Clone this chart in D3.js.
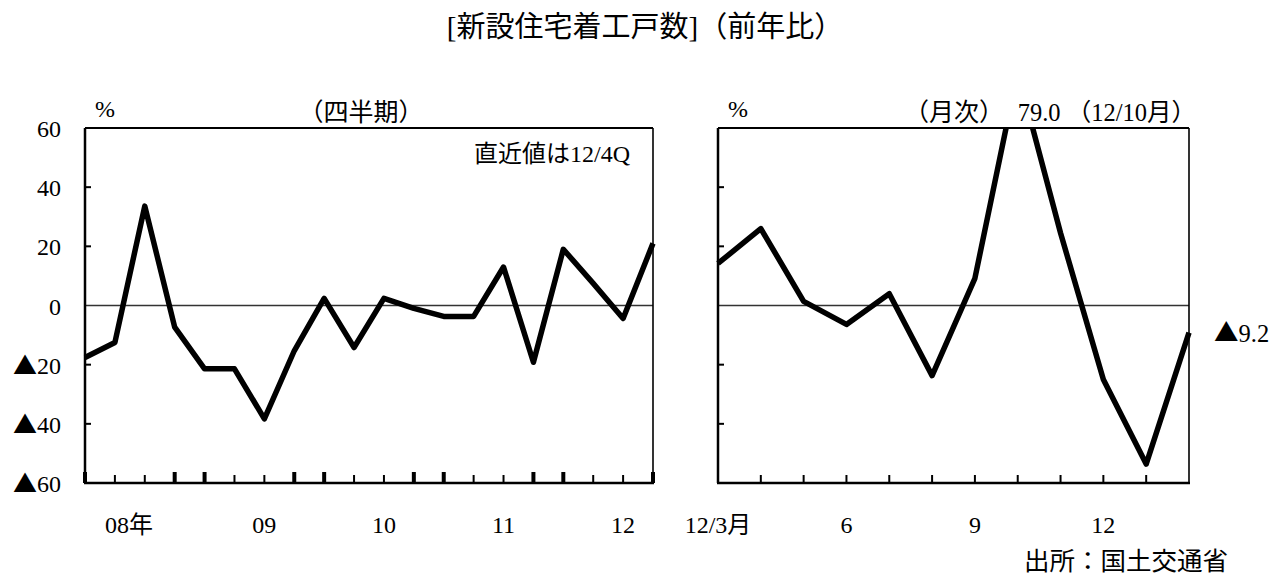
<!DOCTYPE html>
<html>
<head>
<meta charset="utf-8">
<script src="https://cdn.jsdelivr.net/npm/d3@7"></script>
<style>
  body { margin: 0; background: #fff; }
  svg { display: block; }
  text { font-family: "Liberation Serif", "Tinos", "Times New Roman", "DejaVu Serif", "Noto Sans CJK JP", serif; fill: #000; }
  .cjk { font-family: "Noto Sans CJK JP", sans-serif; }
</style>
</head>
<body>
<svg id="chart" width="1279" height="578"></svg>
<script>
// Quarterly housing starts, year-on-year change (%)
const quarters = ["08Q1","08Q2","08Q3","08Q4","09Q1","09Q2","09Q3","09Q4",
                  "10Q1","10Q2","10Q3","10Q4","11Q1","11Q2","11Q3","11Q4",
                  "12Q1","12Q2","12Q3","12Q4"];
const quarterlyYoY = [-17.6,-12.5,33.6,-7.3,-21.4,-21.4,-38.3,-15.3,
                      2.4,-14.2,2.4,-1.0,-3.7,-3.7,13.0,-19.2,
                      19.0,7.5,-4.4,21.0];
const quarterLabels = ["08年","09","10","11","12"];
const quarterLabelAt = [1.47, 6, 10, 14, 18];

// Monthly housing starts, year-on-year change (%)
const months = ["12/3","12/4","12/5","12/6","12/7","12/8","12/9","12/10","12/11","12/12","13/1","13/2"];
const monthlyYoY = [14.2,26.0,1.4,-6.4,4.0,-23.7,9.2,79.0,24.5,-25.0,-53.6,-9.2];
const monthLabels = ["12/3月","6","9","12"];
const monthLabelAt = [0, 3, 6, 9];

const yTicks = [60,40,20,0,-20,-40,-60];

const svg = d3.select("#chart");

// negative values are written with a leading ▲
function signedText(sel, v) {
  sel.text(null);
  if (v < 0) sel.append("tspan").attr("class", "cjk").text("▲");
  sel.append("tspan").text(String(Math.abs(v)));
}

const plotTop = 128, plotBottom = 483;
const y = d3.scaleLinear().domain([-60, 60]).range([plotBottom, plotTop]);

// Title
svg.append("text").attr("x", 645).attr("y", 37).attr("text-anchor", "middle")
  .attr("font-size", 29).text("[新設住宅着工戸数]（前年比）");

function panel(opts) {
  const { x0, x1, values, subtitle, subtitleX, clipId } = opts;
  const x = d3.scaleLinear().domain([0, values.length - 1]).range([x0, x1]);
  const g = svg.append("g");

  // zero line
  g.append("line").attr("x1", x0).attr("x2", x1).attr("y1", y(0)).attr("y2", y(0))
    .attr("stroke", "#333").attr("stroke-width", 1.5);

  // inner y ticks
  g.selectAll(".yt").data(yTicks.filter(v => v !== 0 && Math.abs(v) !== 60)).join("line")
    .attr("x1", x0).attr("x2", x0 + 6).attr("y1", d => y(d)).attr("y2", d => y(d))
    .attr("stroke", "#000").attr("stroke-width", 2);

  // frame
  g.append("line").attr("x1", x0).attr("x2", x1).attr("y1", plotTop).attr("y2", plotTop)
    .attr("stroke", "#000").attr("stroke-width", 2);
  g.append("line").attr("x1", x1).attr("x2", x1).attr("y1", plotTop).attr("y2", plotBottom)
    .attr("stroke", "#000").attr("stroke-width", 1.6);
  g.append("line").attr("x1", x0).attr("x2", x0).attr("y1", plotTop).attr("y2", plotBottom)
    .attr("stroke", "#000").attr("stroke-width", 2.5);
  g.append("line").attr("x1", x0 - 1).attr("x2", x1 + 1).attr("y1", plotBottom).attr("y2", plotBottom)
    .attr("stroke", "#000").attr("stroke-width", 2.5);

  // subtitle and unit
  g.append("text").attr("x", subtitleX).attr("y", 121).attr("text-anchor", "middle")
    .attr("font-size", 25).text(subtitle);
  g.append("text").attr("x", x0 + 20).attr("y", 117).attr("text-anchor", "middle")
    .attr("font-size", 24).text("%");

  // clip and data line
  svg.append("clipPath").attr("id", clipId).append("rect")
    .attr("x", x0 - 5).attr("y", plotTop).attr("width", x1 - x0 + 10).attr("height", plotBottom - plotTop);
  const line = d3.line().x((d, i) => x(i)).y(d => y(d));
  g.append("path").datum(values).attr("d", line).attr("clip-path", `url(#${clipId})`)
    .attr("fill", "none").attr("stroke", "#000").attr("stroke-width", 5.5)
    .attr("stroke-linejoin", "round");
  return { g, x };
}

// Quarterly panel
const left = panel({ x0: 85, x1: 653, values: quarterlyYoY, subtitle: "（四半期）", subtitleX: 361, clipId: "clipQ" });
const quarterMajor = quarters.map(q => q.endsWith("Q1") || q.endsWith("Q4"));
left.g.selectAll(".xt").data(quarters).join("line")
  .attr("x1", (d, i) => left.x(i)).attr("x2", (d, i) => left.x(i))
  .attr("y1", (d, i) => quarterMajor[i] ? plotBottom - 11 : plotBottom - 8).attr("y2", plotBottom)
  .attr("stroke", "#000").attr("stroke-width", (d, i) => quarterMajor[i] ? 4 : 2);
left.g.selectAll(".yl").data(yTicks).join("text")
  .attr("x", 61).attr("y", d => y(d) + 9).attr("text-anchor", "end")
  .attr("font-size", 24).each(function (d) { signedText(d3.select(this), d); });
left.g.selectAll(".xl").data(quarterLabels).join("text")
  .attr("x", (d, i) => left.x(quarterLabelAt[i])).attr("y", 533).attr("text-anchor", "middle")
  .attr("font-size", 24).text(d => d);
const latestQ = quarters[quarters.length - 1];
left.g.append("text").attr("x", 630).attr("y", 162).attr("text-anchor", "end")
  .attr("font-size", 24).text(`直近値は${latestQ.slice(0, 2)}/${latestQ.slice(3)}Q`);

// Monthly panel
const right = panel({ x0: 718, x1: 1189, values: monthlyYoY, subtitle: "（月次）", subtitleX: 954, clipId: "clipM" });
right.g.selectAll(".xt").data(months.slice(1, -1)).join("line")
  .attr("x1", (d, i) => right.x(i + 1)).attr("x2", (d, i) => right.x(i + 1))
  .attr("y1", plotBottom - 8).attr("y2", plotBottom)
  .attr("stroke", "#000").attr("stroke-width", 2);
right.g.selectAll(".xl").data(monthLabels).join("text")
  .attr("x", (d, i) => right.x(monthLabelAt[i])).attr("y", 533).attr("text-anchor", "middle")
  .attr("font-size", 24).text(d => d);

// Annotations for the clipped peak and the latest value
const peakIdx = monthlyYoY.indexOf(d3.max(monthlyYoY));
const peakMonth = months[peakIdx].split("/");
right.g.append("text").attr("x", 1196).attr("y", 121).attr("text-anchor", "end")
  .attr("font-size", 24.5).text(`${monthlyYoY[peakIdx].toFixed(1)} （${peakMonth[0]}/${peakMonth[1]}月）`);
const last = monthlyYoY[monthlyYoY.length - 1];
right.g.append("text").attr("x", 1214).attr("y", y(last) + 9)
  .attr("font-size", 24.5).each(function () { signedText(d3.select(this), last); });

// Source
svg.append("text").attr("x", 1228).attr("y", 570).attr("text-anchor", "end")
  .attr("font-size", 25.5).text("出所：国土交通省");
</script>
</body>
</html>
